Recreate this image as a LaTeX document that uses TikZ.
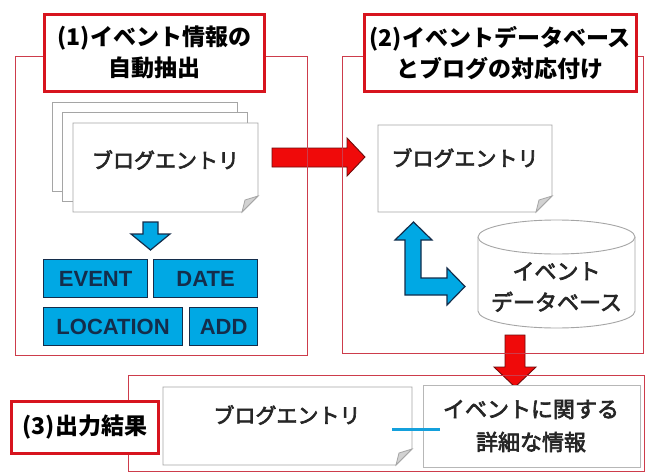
\documentclass[tikz,border=0pt]{standalone}
\usepackage{fontspec}
\setmainfont{Noto Sans CJK JP}
\newfontfamily\jpmed{Noto Sans CJK JP}[FakeBold=3]
\newfontfamily\arialf{Liberation Sans}
\definecolor{fred}{RGB}{205,60,75}
\definecolor{tred}{RGB}{215,20,30}
\definecolor{arred}{RGB}{240,10,10}
\definecolor{ardark}{RGB}{110,10,10}
\definecolor{bcyan}{RGB}{0,168,228}
\definecolor{bdark}{RGB}{20,45,75}
\definecolor{pgray}{RGB}{165,165,165}
\definecolor{lcyan}{RGB}{20,160,220}
\tikzset{
  frame/.style={draw=fred, line width=0.9pt},
  titlebox/.style={draw=tred, line width=2.6pt, fill=white, inner sep=0pt, align=center,
     font=\fontsize{23}{31}\selectfont\bfseries},
  pagebox/.style={draw=pgray, line width=0.9pt, fill=white},
  foldtri/.style={draw=pgray, line width=0.8pt, fill=gray!35},
  bluebox/.style={draw=bdark, line width=1.2pt, fill=bcyan, inner sep=0pt,
     text=bdark, font=\arialf\fontsize{22}{22}\selectfont\bfseries},
  bodytxt/.style={font=\jpmed\fontsize{21}{31}\selectfont, align=center, text=black!85},
  redarrow/.style={fill=arred, draw=ardark, line width=0.9pt},
  bluearrow/.style={fill=bcyan, draw=bdark, line width=1.2pt},
}
\newcommand{\foldpage}[5]{% x1 y1 x2 y2 f
  \draw[pagebox] (#1,#2) -- (#3,#2) -- (#3,#4-#5) -- (#3-#5,#4) -- (#1,#4) -- cycle;
  \draw[foldtri] (#3,#4-#5) -- (#3-#5,#4) -- (#3-#5+3,#4-#5+4) -- cycle;
}
\begin{document}
\begin{tikzpicture}[x=1pt,y=-1pt]
\useasboundingbox (0,0) rectangle (646,474);
\fill[white] (0,0) rectangle (646,474);

% ---- panel 1 pages
\draw[pagebox] (52,102) rectangle (237,191);
\draw[pagebox] (62,112) rectangle (247,201);
\foldpage{73}{123}{258}{212}{16}
\node[bodytxt] (blog1) at (165.5,160) {ブログエントリ};

% blue down arrow
\draw[bluearrow] (143,222) -- (158,222) -- (158,234) -- (170,234) -- (150.5,250) -- (131,234) -- (143,234) -- cycle;

% blue boxes
\node[bluebox, minimum width=104pt, minimum height=38pt, anchor=north west] (event) at (43,259) {EVENT};
\node[bluebox, minimum width=104pt, minimum height=38pt, anchor=north west] (date) at (153,259) {DATE};
\node[bluebox, minimum width=139pt, minimum height=38pt, anchor=north west] (loc) at (43,307) {LOCATION};
\node[bluebox, minimum width=68pt, minimum height=38pt, anchor=north west] (add) at (189,307) {ADD};

% ---- panel 2
\foldpage{378}{125}{552}{212}{16}
\node[bodytxt] (blog2) at (465,158) {ブログエントリ};

% cylinder
\draw[pagebox] (478,237) -- (478,311) arc[start angle=180, end angle=360, x radius=78.5, y radius=-17] -- (635,237);
\draw[pagebox] (556.5,237) ellipse[x radius=78.5, y radius=17];
\node[bodytxt, font=\jpmed\fontsize{22}{31}\selectfont] (db) at (556.5,287) {イベント\\データベース};

% blue L arrow
\draw[bluearrow] (405,240) -- (395,240) -- (413.5,222) -- (432,240) -- (421,240) -- (421,278)
  -- (447,278) -- (447,268) -- (465,286.5) -- (447,305) -- (447,295) -- (405,295) -- cycle;

% red right arrow
\draw[redarrow] (272,148) -- (347,148) -- (347,138) -- (365,157) -- (347,176) -- (347,167) -- (272,167) -- cycle;

% red down arrow
\draw[redarrow] (505,335) -- (525,335) -- (525,367) -- (536,367) -- (515,387) -- (494,367) -- (505,367) -- cycle;

% ---- panel 3
\foldpage{163}{387}{412}{465}{16}
\node[bodytxt] (blog3) at (287,415) {ブログエントリ};
\draw[draw=pgray!80, line width=0.8pt, fill=white] (423,385) rectangle (640,467);
\node[bodytxt, font=\jpmed\fontsize{22}{33}\selectfont] (detail) at (531,426) {イベントに関する\\詳細な情報};
\coordinate (lnA) at (392,429);
\coordinate (lnB) at (440,429);
\draw[lcyan, line width=3pt] (lnA) -- (lnB);

% ---- frames
\draw[frame] (15,56) rectangle (307,355);
\draw[frame] (342,56) rectangle (643,353);
\draw[frame] (128,375) rectangle (644,471);

% ---- titles
\node[titlebox, minimum width=220pt, minimum height=77pt, anchor=north west] (t1) at (43,13) {(1)イベント情報の\\自動抽出};
\node[titlebox, minimum width=272pt, minimum height=77pt, anchor=north west] (t2) at (363,13) {(2)イベントデータベース\\とブログの対応付け};
\node[titlebox, minimum width=147pt, minimum height=52pt, anchor=north west] (t3) at (10,400) {(3)出力結果};
\end{tikzpicture}
\end{document}
